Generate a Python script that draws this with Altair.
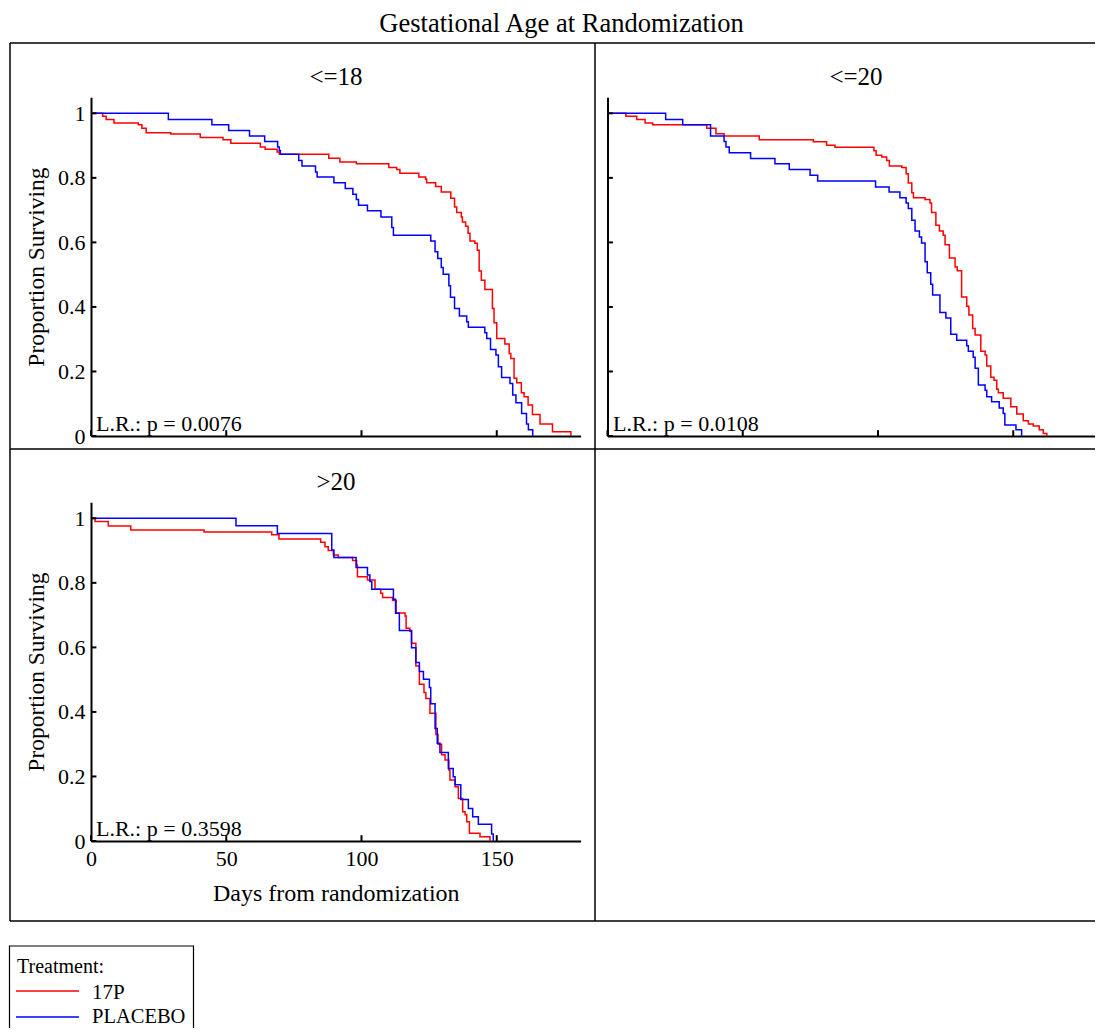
import altair as alt
import pandas as pd

# ---------------- data ----------------
TREATMENTS = ["17P", "PLACEBO"]
COLORS = ["#ff0000", "#0000ff"]
PANEL_TITLES = ["<=18", "<=20", ">20"]
LR_TEXTS = ["L.R.: p = 0.0076", "L.R.: p = 0.0108", "L.R.: p = 0.3598"]
FIG_TITLE = "Gestational Age at Randomization"
X_TITLE = "Days from randomization"
Y_TITLE = "Proportion Surviving"
LEGEND_TITLE = "Treatment:"
X_TICKS = [0, 50, 100, 150]
Y_TICKS = [0, 0.2, 0.4, 0.6, 0.8, 1]

# panel <=18
A_17P_DAYS = [0, 4.3, 5.6, 8.5, 17.5, 18.8, 20.4, 29.5, 40.4, 48.8, 51.7, 62.6, 64.4, 68.8, 69.6,
              87.9, 92.0, 98.1, 110.1, 113.0, 114.2, 121.2, 123.7, 124.1, 127.4, 129.5, 133.0,
              134.4, 135.2, 136.9, 137.3, 138.5, 139.4, 140.1, 141.9, 142.8, 143.5, 144.3, 145.6,
              148.4, 149.0, 150.0, 153.0, 154.6, 155.2, 156.4, 157.4, 159.1, 160.1, 161.6, 163.2,
              166.0, 170.6, 177.4]
A_17P_SURV = [1.0, 0.991, 0.981, 0.970, 0.965, 0.954, 0.940, 0.936, 0.925, 0.918, 0.907, 0.896,
              0.889, 0.880, 0.873, 0.861, 0.849, 0.844, 0.832, 0.826, 0.814, 0.803, 0.796, 0.785,
              0.773, 0.756, 0.737, 0.710, 0.693, 0.679, 0.663, 0.650, 0.628, 0.604, 0.597, 0.576,
              0.511, 0.483, 0.454, 0.395, 0.351, 0.302, 0.285, 0.256, 0.240, 0.179, 0.165, 0.134,
              0.122, 0.096, 0.067, 0.037, 0.013, 0.0]
A_PLA_DAYS = [0, 28.6, 44.7, 50.9, 58.6, 64.2, 69.0, 69.6, 70.0, 76.8, 78.0, 83.0, 83.6, 89.8,
              94.0, 96.8, 98.1, 98.9, 102.2, 107.2, 111.2, 111.8, 125.6, 127.2, 128.2, 129.5,
              130.2, 132.3, 132.9, 134.4, 136.2, 138.9, 139.5, 145.6, 146.3, 147.7, 149.7, 150.6,
              151.8, 154.9, 155.9, 157.1, 159.2, 161.0, 161.7, 163.3]
A_PLA_SURV = [1.0, 0.981, 0.965, 0.947, 0.930, 0.913, 0.896, 0.885, 0.873, 0.854, 0.837, 0.818,
              0.803, 0.785, 0.767, 0.749, 0.733, 0.715, 0.698, 0.679, 0.646, 0.622, 0.604, 0.571,
              0.550, 0.522, 0.501, 0.466, 0.430, 0.395, 0.372, 0.354, 0.337, 0.320, 0.302, 0.268,
              0.251, 0.215, 0.181, 0.163, 0.127, 0.103, 0.070, 0.037, 0.019, 0.0]

# panel <=20
B_17P_DAYS = [0, 6.8, 10.8, 13.9, 16.7, 36.7, 40.1, 43.1, 56.1, 76.1, 81.0, 84.1, 98.5, 99.3,
              101.4, 103.2, 104.2, 108.8, 110.4, 111.2, 112.5, 113.1, 117.4, 119.2, 119.8, 121.4,
              122.7, 124.1, 124.8, 126.4, 128.5, 129.3, 130.9, 132.8, 133.6, 135.0, 135.9, 138.0,
              139.6, 140.2, 141.7, 142.9, 143.9, 144.5, 146.3, 149.1, 151.3, 153.7, 155.6, 157.4,
              159.6, 161.1, 162.4]
B_17P_SURV = [1.0, 0.991, 0.981, 0.970, 0.965, 0.954, 0.937, 0.930, 0.918, 0.912, 0.901, 0.895,
              0.884, 0.870, 0.865, 0.854, 0.837, 0.832, 0.813, 0.784, 0.754, 0.738, 0.733, 0.722,
              0.693, 0.653, 0.635, 0.622, 0.593, 0.552, 0.524, 0.512, 0.431, 0.402, 0.375, 0.333,
              0.313, 0.263, 0.251, 0.217, 0.182, 0.173, 0.145, 0.134, 0.117, 0.091, 0.068, 0.047,
              0.037, 0.031, 0.019, 0.008, 0.0]
B_PLA_DAYS = [0, 21.5, 27.8, 38.1, 43.1, 43.8, 45.0, 52.9, 61.9, 67.2, 74.9, 77.7, 99.1, 104.1,
              108.1, 110.4, 111.2, 112.5, 113.7, 115.3, 116.1, 117.4, 118.2, 119.5, 120.2, 122.9,
              125.1, 126.9, 129.1, 132.8, 133.4, 135.2, 135.9, 137.1, 139.6, 140.2, 142.0, 144.8,
              146.3, 146.9, 151.0, 153.1]
B_PLA_SURV = [1.0, 0.981, 0.965, 0.930, 0.913, 0.896, 0.878, 0.860, 0.844, 0.826, 0.808, 0.790,
              0.772, 0.756, 0.738, 0.722, 0.705, 0.669, 0.635, 0.617, 0.598, 0.540, 0.506, 0.470,
              0.437, 0.383, 0.366, 0.315, 0.297, 0.280, 0.263, 0.244, 0.210, 0.158, 0.142, 0.122,
              0.106, 0.087, 0.070, 0.034, 0.019, 0.0]

# panel >20
C_17P_DAYS = [0, 1.5, 6.4, 14.7, 41.8, 66.8, 69.5, 84.9, 86.5, 87.7, 89.6, 91.4, 96.7, 98.2, 98.5,
              102.2, 105.0, 107.1, 107.8, 111.5, 112.8, 116.1, 116.5, 117.9, 118.5, 120.1, 121.4,
              123.1, 123.8, 125.3, 127.5, 128.3, 129.6, 130.9, 132.3, 132.7, 134.6, 135.8, 137.4,
              138.3, 138.9, 139.9, 143.8, 147.5]
C_17P_SURV = [1.0, 0.990, 0.976, 0.964, 0.958, 0.949, 0.936, 0.926, 0.912, 0.900, 0.886, 0.879,
              0.869, 0.855, 0.819, 0.809, 0.780, 0.768, 0.755, 0.745, 0.707, 0.697, 0.659, 0.650,
              0.613, 0.542, 0.486, 0.460, 0.442, 0.396, 0.330, 0.300, 0.267, 0.251, 0.220, 0.189,
              0.168, 0.132, 0.091, 0.081, 0.060, 0.024, 0.013, 0.0]
C_PLA_DAYS = [0, 53.6, 68.9, 89.0, 89.8, 98.0, 102.2, 103.1, 103.8, 111.8, 112.6, 114.0, 118.5,
              120.1, 121.4, 122.9, 125.1, 125.6, 127.2, 128.0, 129.0, 132.1, 133.9, 134.6, 136.7,
              139.5, 141.1, 143.2, 148.1, 148.7]
C_PLA_SURV = [1.0, 0.977, 0.953, 0.902, 0.879, 0.848, 0.824, 0.804, 0.780, 0.749, 0.706, 0.652,
              0.599, 0.553, 0.525, 0.501, 0.476, 0.425, 0.349, 0.303, 0.274, 0.225, 0.199, 0.174,
              0.129, 0.101, 0.075, 0.052, 0.022, 0.0]

# ---------------- layout / style ----------------
FONT = "Liberation Serif"
W, H = 1087, 1020
X_DOMAIN = [0, 181]
Y_DOMAIN = [0, 1.05]


def km_frame(d1, s1, d2, s2):
    return pd.DataFrame({
        "day": d1 + d2,
        "surv": s1 + s2,
        "treatment": [TREATMENTS[0]] * len(d1) + [TREATMENTS[1]] * len(d2),
    })


def panel(df, xrange, yrange, x_axis_y, y_axis_x, x_labels, y_labels):
    xs = alt.Scale(domain=X_DOMAIN, range=xrange, nice=False, zero=False)
    ys = alt.Scale(domain=Y_DOMAIN, range=yrange, nice=False, zero=False)
    common = dict(ticks=False, grid=False, domain=True, domainColor="black", domainWidth=2,
                  labelFont=FONT, labelFontSize=22, labelColor="black",
                  titleFont=FONT, titleFontWeight="normal", titleColor="black",
                  labelFlush=False)
    xaxis = alt.Axis(orient="bottom", offset=x_axis_y - H, values=X_TICKS, format="d",
                     labels=x_labels, labelPadding=7,
                     title=X_TITLE if x_labels else "", titleFontSize=24, titlePadding=12,
                     **common)
    yaxis = alt.Axis(orient="left", offset=-y_axis_x, values=Y_TICKS, format="~g",
                     labels=y_labels, labelPadding=6,
                     title=Y_TITLE if y_labels else "", titleFontSize=23.5, titlePadding=9,
                     **common)
    lines = alt.Chart(df).mark_line(interpolate="step-after", strokeWidth=1.5).encode(
        x=alt.X("day:Q", scale=xs, axis=xaxis),
        y=alt.Y("surv:Q", scale=ys, axis=yaxis),
        color=alt.Color("treatment:N", scale=alt.Scale(domain=TREATMENTS, range=COLORS), legend=None),
    )
    yt = alt.Chart(pd.DataFrame({"v": Y_TICKS})).mark_rule(color="black", strokeWidth=2).encode(
        y=alt.Y("v:Q", scale=ys, axis=None),
        x=alt.XDatum(0, scale=xs, axis=None),
        x2=alt.X2Datum(2.0),
    )
    xt = alt.Chart(pd.DataFrame({"v": X_TICKS})).mark_rule(color="black", strokeWidth=2).encode(
        x=alt.X("v:Q", scale=xs, axis=None),
        y=alt.YDatum(0, scale=ys, axis=None),
        y2=alt.Y2Datum(0.018),
    )
    return [lines, yt, xt]


def text(label, x, y, size, align="center"):
    return alt.Chart(pd.DataFrame({"t": [label]})).mark_text(
        font=FONT, fontSize=size, align=align, baseline="alphabetic", color="black"
    ).encode(text="t:N", x=alt.value(x), y=alt.value(y))


def rule(x, x2, y, y2, color="black", width=1.5):
    return alt.Chart(pd.DataFrame({"a": [0]})).mark_rule(color=color, strokeWidth=width).encode(
        x=alt.value(x), x2=alt.value(x2), y=alt.value(y), y2=alt.value(y2))


p1 = panel(km_frame(A_17P_DAYS, A_17P_SURV, A_PLA_DAYS, A_PLA_SURV),
           [83, 572.6], [428, 89.2], 428, 83, False, True)
p2 = panel(km_frame(B_17P_DAYS, B_17P_SURV, B_PLA_DAYS, B_PLA_SURV),
           [599.5, 1089.1], [428, 89.2], 428, 599.5, False, False)
p3 = panel(km_frame(C_17P_DAYS, C_17P_SURV, C_PLA_DAYS, C_PLA_SURV),
           [83, 572.6], [833, 494.2], 833, 83, True, True)

# frame lines
frame = [
    rule(2, W + 40, 35, 35),
    rule(2, 2, 35, 913),
    rule(2, W + 40, 913, 913),
    rule(587, 587, 35, 913),
    rule(2, W + 40, 441, 441),
]

legend_box = alt.Chart(pd.DataFrame({"a": [0]})).mark_rect(
    fill="white", stroke="black", strokeWidth=1.2).encode(
    x=alt.value(1.5), x2=alt.value(185.5), y=alt.value(938), y2=alt.value(1060))

legend = [
    legend_box,
    text(LEGEND_TITLE, 9, 965, 20, "left"),
    rule(8, 71, 983, 983, COLORS[0], 1.5),
    text(TREATMENTS[0], 84, 991, 21, "left"),
    rule(8, 71, 1009, 1009, COLORS[1], 1.5),
    text(TREATMENTS[1], 84, 1015.3, 20.5, "left"),
]

texts = [
    text(FIG_TITLE, 553.5, 23.7, 26.5),
    text(PANEL_TITLES[0], 328, 77, 25),
    text(PANEL_TITLES[1], 848, 77, 25),
    text(PANEL_TITLES[2], 328, 482, 25),
    text(LR_TEXTS[0], 88, 423, 22, "left"),
    text(LR_TEXTS[1], 605, 423, 22, "left"),
    text(LR_TEXTS[2], 88, 828, 22, "left"),
]

chart = alt.layer(*frame, *p1, *p2, *p3, *texts, *legend).resolve_scale(
    x="independent", y="independent"
).properties(
    width=W, height=H, autosize=alt.AutoSizeParams(type="none"), padding=0
).configure_view(stroke=None)

chart.save("out.html", embed_options={"renderer": "svg", "actions": False})
